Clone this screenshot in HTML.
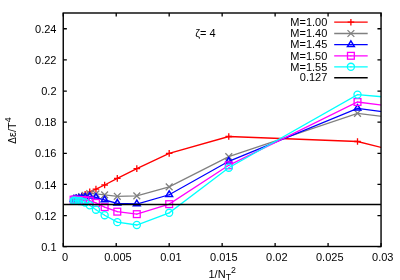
<!DOCTYPE html>
<html><head><meta charset="utf-8"><title>plot</title>
<style>
html,body{margin:0;padding:0;background:#fff;width:400px;height:280px;overflow:hidden}
svg{will-change:transform}
svg text{font-family:"Liberation Sans",sans-serif;font-size:11px;fill:#000;stroke:none}
</style></head><body>
<svg width="400" height="280" viewBox="0 0 400 280" style="display:block;position:absolute;left:0;top:0">
<rect width="400" height="280" fill="#fff"/>
<defs><clipPath id="c"><rect x="63.25" y="13.0" width="317.8" height="233.5"/></clipPath></defs>
<path d="M63.25 246.70h3.6M381.05 246.70h-3.6M63.25 215.57h3.6M381.05 215.57h-3.6M63.25 184.43h3.6M381.05 184.43h-3.6M63.25 153.30h3.6M381.05 153.30h-3.6M63.25 122.17h3.6M381.05 122.17h-3.6M63.25 91.03h3.6M381.05 91.03h-3.6M63.25 59.90h3.6M381.05 59.90h-3.6M63.25 28.77h3.6M381.05 28.77h-3.6M63.25 246.5v-3.6M63.25 13.0v3.6M116.22 246.5v-3.6M116.22 13.0v3.6M169.18 246.5v-3.6M169.18 13.0v3.6M222.15 246.5v-3.6M222.15 13.0v3.6M275.12 246.5v-3.6M275.12 13.0v3.6M328.08 246.5v-3.6M328.08 13.0v3.6M381.05 246.5v-3.6M381.05 13.0v3.6" stroke="#000" stroke-width="1.3" fill="none"/>
<g clip-path="url(#c)" stroke-width="1.3">
<polyline points="725.33,232.60 357.51,141.50 228.77,136.50 169.18,153.40 136.81,168.60 117.30,178.40 104.63,185.00 95.95,189.10 89.73,191.80 85.14,194.22 81.64,196.06 78.92,197.50 76.76,198.63 75.02,199.55 73.60,200.30" stroke="#ff0000" fill="none"/>
<path d="M354.21 141.50H360.81M357.51 138.20V144.80" stroke="#ff0000" fill="none"/>
<path d="M225.47 136.50H232.07M228.77 133.20V139.80" stroke="#ff0000" fill="none"/>
<path d="M165.88 153.40H172.48M169.18 150.10V156.70" stroke="#ff0000" fill="none"/>
<path d="M133.51 168.60H140.11M136.81 165.30V171.90" stroke="#ff0000" fill="none"/>
<path d="M114.00 178.40H120.60M117.30 175.10V181.70" stroke="#ff0000" fill="none"/>
<path d="M101.33 185.00H107.93M104.63 181.70V188.30" stroke="#ff0000" fill="none"/>
<path d="M92.65 189.10H99.25M95.95 185.80V192.40" stroke="#ff0000" fill="none"/>
<path d="M86.43 191.80H93.03M89.73 188.50V195.10" stroke="#ff0000" fill="none"/>
<path d="M81.84 194.22H88.44M85.14 190.92V197.52" stroke="#ff0000" fill="none"/>
<path d="M78.34 196.06H84.94M81.64 192.76V199.36" stroke="#ff0000" fill="none"/>
<path d="M75.62 197.50H82.22M78.92 194.20V200.80" stroke="#ff0000" fill="none"/>
<path d="M73.46 198.63H80.06M76.76 195.33V201.93" stroke="#ff0000" fill="none"/>
<path d="M71.72 199.55H78.32M75.02 196.25V202.85" stroke="#ff0000" fill="none"/>
<path d="M70.30 200.30H76.90M73.60 197.00V203.60" stroke="#ff0000" fill="none"/>
<polyline points="725.33,160.80 357.51,113.30 228.77,156.70 169.18,186.90 136.81,195.90 117.30,196.30 104.63,194.90 95.95,193.90 89.73,193.50 85.14,195.24 81.64,196.56 78.92,197.59 76.76,198.40 75.02,199.06 73.60,199.60" stroke="#808080" fill="none"/>
<path d="M354.11 109.90L360.91 116.70M354.11 116.70L360.91 109.90" stroke="#808080" fill="none"/>
<path d="M225.37 153.30L232.17 160.10M225.37 160.10L232.17 153.30" stroke="#808080" fill="none"/>
<path d="M165.78 183.50L172.58 190.30M165.78 190.30L172.58 183.50" stroke="#808080" fill="none"/>
<path d="M133.41 192.50L140.21 199.30M133.41 199.30L140.21 192.50" stroke="#808080" fill="none"/>
<path d="M113.90 192.90L120.70 199.70M113.90 199.70L120.70 192.90" stroke="#808080" fill="none"/>
<path d="M101.23 191.50L108.03 198.30M101.23 198.30L108.03 191.50" stroke="#808080" fill="none"/>
<path d="M92.55 190.50L99.35 197.30M92.55 197.30L99.35 190.50" stroke="#808080" fill="none"/>
<path d="M86.33 190.10L93.13 196.90M86.33 196.90L93.13 190.10" stroke="#808080" fill="none"/>
<path d="M81.74 191.84L88.54 198.64M81.74 198.64L88.54 191.84" stroke="#808080" fill="none"/>
<path d="M78.24 193.16L85.04 199.96M78.24 199.96L85.04 193.16" stroke="#808080" fill="none"/>
<path d="M75.52 194.19L82.32 200.99M75.52 200.99L82.32 194.19" stroke="#808080" fill="none"/>
<path d="M73.36 195.00L80.16 201.80M73.36 201.80L80.16 195.00" stroke="#808080" fill="none"/>
<path d="M71.62 195.66L78.42 202.46M71.62 202.46L78.42 195.66" stroke="#808080" fill="none"/>
<path d="M70.20 196.20L77.00 203.00M70.20 203.00L77.00 196.20" stroke="#808080" fill="none"/>
<polyline points="725.33,156.00 357.51,108.40 228.77,161.30 169.18,194.75 136.81,204.00 117.30,203.30 104.63,200.00 95.95,197.40 89.73,196.40 85.14,197.28 81.64,197.95 78.92,198.48 76.76,198.89 75.02,199.23 73.60,199.50" stroke="#0000ff" fill="none"/>
<path d="M357.51 104.59L354.11 110.10H360.91Z" stroke="#0000ff" stroke-width="1.5" fill="none"/><circle cx="357.51" cy="108.40" r="0.6" fill="#0000ff"/>
<path d="M228.77 157.49L225.37 163.00H232.17Z" stroke="#0000ff" stroke-width="1.5" fill="none"/><circle cx="228.77" cy="161.30" r="0.6" fill="#0000ff"/>
<path d="M169.18 190.94L165.78 196.45H172.58Z" stroke="#0000ff" stroke-width="1.5" fill="none"/><circle cx="169.18" cy="194.75" r="0.6" fill="#0000ff"/>
<path d="M136.81 200.19L133.41 205.70H140.21Z" stroke="#0000ff" stroke-width="1.5" fill="none"/><circle cx="136.81" cy="204.00" r="0.6" fill="#0000ff"/>
<path d="M117.30 199.49L113.90 205.00H120.70Z" stroke="#0000ff" stroke-width="1.5" fill="none"/><circle cx="117.30" cy="203.30" r="0.6" fill="#0000ff"/>
<path d="M104.63 196.19L101.23 201.70H108.03Z" stroke="#0000ff" stroke-width="1.5" fill="none"/><circle cx="104.63" cy="200.00" r="0.6" fill="#0000ff"/>
<path d="M95.95 193.59L92.55 199.10H99.35Z" stroke="#0000ff" stroke-width="1.5" fill="none"/><circle cx="95.95" cy="197.40" r="0.6" fill="#0000ff"/>
<path d="M89.73 192.59L86.33 198.10H93.13Z" stroke="#0000ff" stroke-width="1.5" fill="none"/><circle cx="89.73" cy="196.40" r="0.6" fill="#0000ff"/>
<path d="M85.14 193.47L81.74 198.98H88.54Z" stroke="#0000ff" stroke-width="1.5" fill="none"/><circle cx="85.14" cy="197.28" r="0.6" fill="#0000ff"/>
<path d="M81.64 194.15L78.24 199.65H85.04Z" stroke="#0000ff" stroke-width="1.5" fill="none"/><circle cx="81.64" cy="197.95" r="0.6" fill="#0000ff"/>
<path d="M78.92 194.67L75.52 200.18H82.32Z" stroke="#0000ff" stroke-width="1.5" fill="none"/><circle cx="78.92" cy="198.48" r="0.6" fill="#0000ff"/>
<path d="M76.76 195.08L73.36 200.59H80.16Z" stroke="#0000ff" stroke-width="1.5" fill="none"/><circle cx="76.76" cy="198.89" r="0.6" fill="#0000ff"/>
<path d="M75.02 195.42L71.62 200.93H78.42Z" stroke="#0000ff" stroke-width="1.5" fill="none"/><circle cx="75.02" cy="199.23" r="0.6" fill="#0000ff"/>
<path d="M73.60 195.69L70.20 201.20H77.00Z" stroke="#0000ff" stroke-width="1.5" fill="none"/><circle cx="73.60" cy="199.50" r="0.6" fill="#0000ff"/>
<polyline points="725.33,149.60 357.51,102.00 228.77,165.30 169.18,204.15 136.81,214.15 117.30,211.65 104.63,207.15 95.95,202.90 89.73,200.60 85.14,200.34 81.64,200.15 78.92,200.00 76.76,199.88 75.02,199.78 73.60,199.70" stroke="#ff00ff" fill="none"/>
<rect x="354.11" y="98.60" width="6.80" height="6.80" stroke="#ff00ff" fill="none"/><circle cx="357.51" cy="102.00" r="0.6" fill="#ff00ff"/>
<rect x="225.37" y="161.90" width="6.80" height="6.80" stroke="#ff00ff" fill="none"/><circle cx="228.77" cy="165.30" r="0.6" fill="#ff00ff"/>
<rect x="165.78" y="200.75" width="6.80" height="6.80" stroke="#ff00ff" fill="none"/><circle cx="169.18" cy="204.15" r="0.6" fill="#ff00ff"/>
<rect x="133.41" y="210.75" width="6.80" height="6.80" stroke="#ff00ff" fill="none"/><circle cx="136.81" cy="214.15" r="0.6" fill="#ff00ff"/>
<rect x="113.90" y="208.25" width="6.80" height="6.80" stroke="#ff00ff" fill="none"/><circle cx="117.30" cy="211.65" r="0.6" fill="#ff00ff"/>
<rect x="101.23" y="203.75" width="6.80" height="6.80" stroke="#ff00ff" fill="none"/><circle cx="104.63" cy="207.15" r="0.6" fill="#ff00ff"/>
<rect x="92.55" y="199.50" width="6.80" height="6.80" stroke="#ff00ff" fill="none"/><circle cx="95.95" cy="202.90" r="0.6" fill="#ff00ff"/>
<rect x="86.33" y="197.20" width="6.80" height="6.80" stroke="#ff00ff" fill="none"/><circle cx="89.73" cy="200.60" r="0.6" fill="#ff00ff"/>
<rect x="81.74" y="196.94" width="6.80" height="6.80" stroke="#ff00ff" fill="none"/><circle cx="85.14" cy="200.34" r="0.6" fill="#ff00ff"/>
<rect x="78.24" y="196.75" width="6.80" height="6.80" stroke="#ff00ff" fill="none"/><circle cx="81.64" cy="200.15" r="0.6" fill="#ff00ff"/>
<rect x="75.52" y="196.60" width="6.80" height="6.80" stroke="#ff00ff" fill="none"/><circle cx="78.92" cy="200.00" r="0.6" fill="#ff00ff"/>
<rect x="73.36" y="196.48" width="6.80" height="6.80" stroke="#ff00ff" fill="none"/><circle cx="76.76" cy="199.88" r="0.6" fill="#ff00ff"/>
<rect x="71.62" y="196.38" width="6.80" height="6.80" stroke="#ff00ff" fill="none"/><circle cx="75.02" cy="199.78" r="0.6" fill="#ff00ff"/>
<rect x="70.20" y="196.30" width="6.80" height="6.80" stroke="#ff00ff" fill="none"/><circle cx="73.60" cy="199.70" r="0.6" fill="#ff00ff"/>
<polyline points="725.33,126.70 357.51,94.60 228.77,167.70 169.18,212.80 136.81,225.00 117.30,222.15 104.63,215.20 95.95,209.70 89.73,205.30 85.14,202.45 81.64,201.36 78.92,200.96 76.76,200.83 75.02,200.80 73.60,200.80" stroke="#00ffff" fill="none"/>
<circle cx="357.51" cy="94.60" r="3.55" stroke="#00ffff" fill="none"/><circle cx="357.51" cy="94.60" r="0.6" fill="#00ffff"/>
<circle cx="228.77" cy="167.70" r="3.55" stroke="#00ffff" fill="none"/><circle cx="228.77" cy="167.70" r="0.6" fill="#00ffff"/>
<circle cx="169.18" cy="212.80" r="3.55" stroke="#00ffff" fill="none"/><circle cx="169.18" cy="212.80" r="0.6" fill="#00ffff"/>
<circle cx="136.81" cy="225.00" r="3.55" stroke="#00ffff" fill="none"/><circle cx="136.81" cy="225.00" r="0.6" fill="#00ffff"/>
<circle cx="117.30" cy="222.15" r="3.55" stroke="#00ffff" fill="none"/><circle cx="117.30" cy="222.15" r="0.6" fill="#00ffff"/>
<circle cx="104.63" cy="215.20" r="3.55" stroke="#00ffff" fill="none"/><circle cx="104.63" cy="215.20" r="0.6" fill="#00ffff"/>
<circle cx="95.95" cy="209.70" r="3.55" stroke="#00ffff" fill="none"/><circle cx="95.95" cy="209.70" r="0.6" fill="#00ffff"/>
<circle cx="89.73" cy="205.30" r="3.55" stroke="#00ffff" fill="none"/><circle cx="89.73" cy="205.30" r="0.6" fill="#00ffff"/>
<circle cx="85.14" cy="202.45" r="3.55" stroke="#00ffff" fill="none"/><circle cx="85.14" cy="202.45" r="0.6" fill="#00ffff"/>
<circle cx="81.64" cy="201.36" r="3.55" stroke="#00ffff" fill="none"/><circle cx="81.64" cy="201.36" r="0.6" fill="#00ffff"/>
<circle cx="78.92" cy="200.96" r="3.55" stroke="#00ffff" fill="none"/><circle cx="78.92" cy="200.96" r="0.6" fill="#00ffff"/>
<circle cx="76.76" cy="200.83" r="3.55" stroke="#00ffff" fill="none"/><circle cx="76.76" cy="200.83" r="0.6" fill="#00ffff"/>
<circle cx="75.02" cy="200.80" r="3.55" stroke="#00ffff" fill="none"/><circle cx="75.02" cy="200.80" r="0.6" fill="#00ffff"/>
<circle cx="73.60" cy="200.80" r="3.55" stroke="#00ffff" fill="none"/><circle cx="73.60" cy="200.80" r="0.6" fill="#00ffff"/>
<path d="M63.25 204.47H381.05" stroke="#000" stroke-width="1.4"/>
</g>
<g stroke-width="1.3">
<path d="M334.2 22.2H367.7" stroke="#ff0000" stroke-width="1.3"/>
<path d="M347.60 22.20H354.20M350.90 18.90V25.50" stroke="#ff0000" fill="none"/>
<text x="327.3" y="25.90" text-anchor="end">M=1.00</text>
<path d="M334.2 33.5H367.7" stroke="#808080" stroke-width="1.3"/>
<path d="M347.50 30.10L354.30 36.90M347.50 36.90L354.30 30.10" stroke="#808080" fill="none"/>
<text x="327.3" y="37.20" text-anchor="end">M=1.40</text>
<path d="M334.2 44.7H367.7" stroke="#0000ff" stroke-width="1.3"/>
<path d="M350.90 40.89L347.50 46.40H354.30Z" stroke="#0000ff" stroke-width="1.5" fill="none"/><circle cx="350.90" cy="44.70" r="0.6" fill="#0000ff"/>
<text x="327.3" y="48.40" text-anchor="end">M=1.45</text>
<path d="M334.2 55.8H367.7" stroke="#ff00ff" stroke-width="1.3"/>
<rect x="347.50" y="52.40" width="6.80" height="6.80" stroke="#ff00ff" fill="none"/><circle cx="350.90" cy="55.80" r="0.6" fill="#ff00ff"/>
<text x="327.3" y="59.50" text-anchor="end">M=1.50</text>
<path d="M334.2 66.8H367.7" stroke="#00ffff" stroke-width="1.3"/>
<circle cx="350.90" cy="66.80" r="3.55" stroke="#00ffff" fill="none"/><circle cx="350.90" cy="66.80" r="0.6" fill="#00ffff"/>
<text x="327.3" y="70.50" text-anchor="end">M=1.55</text>
<path d="M334.2 77.7H367.7" stroke="#000" stroke-width="1.4"/>
<text x="327.3" y="81.40" text-anchor="end">0.127</text>
</g>
<rect x="63.25" y="13.0" width="317.8" height="233.5" fill="none" stroke="#000" stroke-width="1.4"/>
<text x="56.5" y="250.80" text-anchor="end">0.1</text>
<text x="56.5" y="219.67" text-anchor="end">0.12</text>
<text x="56.5" y="188.53" text-anchor="end">0.14</text>
<text x="56.5" y="157.40" text-anchor="end">0.16</text>
<text x="56.5" y="126.27" text-anchor="end">0.18</text>
<text x="56.5" y="95.13" text-anchor="end">0.2</text>
<text x="56.5" y="64.00" text-anchor="end">0.22</text>
<text x="56.5" y="32.87" text-anchor="end">0.24</text>
<text x="64.95" y="261.1" text-anchor="middle">0</text>
<text x="117.92" y="261.1" text-anchor="middle">0.005</text>
<text x="170.88" y="261.1" text-anchor="middle">0.01</text>
<text x="223.85" y="261.1" text-anchor="middle">0.015</text>
<text x="276.82" y="261.1" text-anchor="middle">0.02</text>
<text x="329.78" y="261.1" text-anchor="middle">0.025</text>
<text x="382.75" y="261.1" text-anchor="middle">0.03</text>
<text x="195.2" y="37.1">ζ= 4</text>
<text x="208.5" y="278">1/N<tspan font-size="8.8" dy="2.4">T</tspan><tspan font-size="8.8" dy="-7.9">2</tspan></text>
<g transform="translate(16,143.7) rotate(-90)"><text x="0" y="0"><tspan font-size="10">Δ</tspan>ε/T<tspan font-size="8.8" dy="-5.3">4</tspan></text></g>
</svg>
</body></html>
